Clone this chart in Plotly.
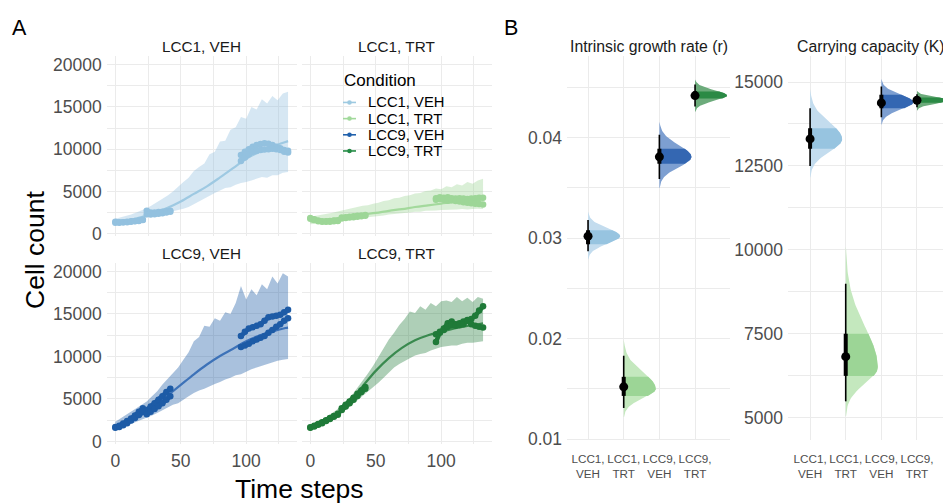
import numpy as np
import plotly.graph_objects as go

W, H = 943, 504

# ---------------- data ----------------
CONDITIONS = ["LCC1, VEH", "LCC1, TRT", "LCC9, VEH", "LCC9, TRT"]
CAT_LABELS = ["LCC1,<br>VEH", "LCC1,<br>TRT", "LCC9,<br>VEH", "LCC9,<br>TRT"]
POINT_COLORS = ["#93c1df", "#9dd697", "#1d5ba6", "#1f7a38"]
LINE_COLORS = ["#9ec9e2", "#a3d99c", "#3d72b8", "#3a8a4f"]
RIBBON_COLORS = ["rgba(147,193,223,0.38)", "rgba(157,214,151,0.38)",
                 "rgba(29,91,166,0.38)", "rgba(31,122,56,0.36)"]
LEGEND_COLORS = ["#9ecae1", "#a1d99b", "#2161ac", "#238b45"]

X_TICKS = [0, 50, 100]
X_TICK_LABELS = ["0", "50", "100"]
X_MINOR = [25, 75, 125]
Y_TICKS = [0, 5000, 10000, 15000, 20000]
Y_TICK_LABELS = ["0", "5000", "10000", "15000", "20000"]
Y_MINOR = [2500, 7500, 12500, 17500]

# observation time windows
OBS_T_W1 = [0, 3, 6, 9, 12, 15, 18, 21]
OBS_T_W2 = [24, 27, 30, 33, 36, 39, 42]
OBS_T_W3 = [96, 99, 102, 105, 108, 111, 114, 117, 120, 123, 126, 129, 132]

LCC1_VEH_REP1 = [1400, 1350, 1350, 1400, 1450, 1500, 1550, 1650,
                 2700, 2500, 2500, 2550, 2600, 2650, 2700,
                 9300, 9700, 10000, 10300, 10500, 10600, 10700, 10650, 10500, 10300, 10100, 9900, 9800]
LCC1_VEH_REP2 = [1300, 1300, 1350, 1350, 1400, 1450, 1500, 1600,
                 2300, 2250, 2300, 2350, 2400, 2500, 2600,
                 8600, 9000, 9400, 9700, 9800, 9900, 9950, 10000, 10050, 10000, 9900, 9700, 9600]
LCC1_TRT_REP1 = [1850, 1700, 1550, 1450, 1450, 1500, 1550, 1550,
                 1900, 1950, 2000, 2050, 2100, 2150, 2200,
                 4200, 4300, 4250, 4300, 4200, 4150, 4200, 4150, 4100, 4150, 4200, 4250, 4250]
LCC1_TRT_REP2 = [1750, 1600, 1450, 1400, 1400, 1400, 1450, 1500,
                 1800, 1850, 1900, 1950, 2000, 2050, 2100,
                 4000, 4100, 4000, 3900, 3950, 3850, 3800, 3700, 3650, 3600, 3550, 3500, 3450]
LCC9_VEH_REP1 = [1700, 1850, 2100, 2400, 2700, 3050, 3500, 3900,
                 3700, 4100, 4500, 4900, 5300, 5800, 6200,
                 12400, 12900, 13300, 13450, 13600, 13800, 14200, 14600, 14700, 14800, 14900, 15200, 15500]
LCC9_VEH_REP2 = [1600, 1700, 1900, 2150, 2450, 2750, 3100, 3500,
                 3200, 3500, 3800, 4150, 4500, 4900, 5300,
                 11100, 11300, 11500, 11800, 12000, 12200, 12400, 12800, 13100, 13500, 13800, 14200, 14500]
LCC9_TRT_REP1 = [1650, 1850, 2050, 2250, 2500, 2750, 3000, 3250,
                 3900, 4300, 4700, 5150, 5600, 6000, 6400,
                 11700, 12800, 13300, 13900, 14100, 13800, 13900, 14100, 14300, 14400, 14800, 15400, 15900]
LCC9_TRT_REP2 = [1600, 1750, 1950, 2150, 2400, 2650, 2900, 3150,
                 3700, 4100, 4500, 4900, 5350, 5800, 6200,
                 12600, 12900, 13100, 13500, 13700, 13600, 13700, 13800, 14200, 13800, 13600, 13500, 13400]

# fitted model curve (read at these time steps)
FIT_T = [0, 10, 20, 30, 40, 50, 60, 70, 80, 90, 100, 110, 120, 130, 132]
FIT_LCC1_VEH = [1250, 1550, 1950, 2450, 3050, 3800, 4700, 5600, 6650, 7750, 8870, 9650, 10300, 10850, 10950]
FIT_LCC1_TRT = [1400, 1600, 1800, 2000, 2250, 2450, 2700, 2900, 3150, 3350, 3550, 3750, 3900, 4050, 4080]
FIT_LCC9_VEH = [1550, 2250, 3100, 4150, 5400, 6650, 7900, 9050, 10050, 10900, 11800, 12450, 12950, 13350, 13400]
FIT_LCC9_TRT = [1550, 2200, 3250, 4700, 6500, 8300, 9800, 11000, 11900, 12500, 12900, 13300, 13600, 13850, 13900]

# prediction band
RIB_T = [0, 4, 8, 12, 16, 20, 24, 28, 32, 36, 40, 44, 48, 52, 56, 60, 64, 68,
         72, 76, 80, 84, 88, 92, 96, 100, 104, 108, 112, 116, 120, 124, 128, 132]
UP_LCC1_VEH = [1750, 1900, 2100, 2250, 2500, 2750, 3000, 3350, 3700, 4100, 4500, 5000, 5600, 6100, 6600, 7400, 7900,
               8300, 9400, 9700, 10900, 11000, 12300, 12600, 13800, 13600, 15000, 14700, 15900, 15400, 16300, 15800, 16600, 16800]
LO_LCC1_VEH = [1100, 1200, 1350, 1450, 1600, 1750, 1900, 2050, 2200, 2350, 2450, 2600, 2750, 2950, 3150, 3500, 3800,
               4200, 4500, 4800, 5100, 5400, 5500, 5800, 6000, 6100, 6300, 6500, 6700, 6600, 6900, 6900, 7200, 7300]
UP_LCC1_TRT = [2000, 2100, 2250, 2350, 2450, 2600, 2750, 2850, 3000, 3150, 3300, 3350, 3550, 3650, 3850, 3950, 4200,
               4250, 4450, 4550, 4750, 4800, 5050, 5100, 5350, 5250, 5600, 5500, 5850, 5700, 6100, 5900, 6300, 6500]
LO_LCC1_TRT = [1100, 1150, 1250, 1300, 1400, 1450, 1550, 1650, 1700, 1800, 1850, 1950, 2000, 2100, 2150, 2250, 2300,
               2400, 2450, 2500, 2600, 2600, 2700, 2700, 2750, 2800, 2800, 2850, 2850, 2900, 2850, 2900, 2950, 2900]
UP_LCC9_VEH = [2300, 2700, 3100, 3500, 3900, 4300, 4700, 5300, 5900, 6700, 7400, 8000, 8700, 9600, 10500, 11800, 12300,
               13600, 13500, 14500, 14200, 15200, 15000, 16300, 18300, 16700, 17900, 17200, 18500, 17900, 19400, 18600, 19800, 19400]
LO_LCC9_VEH = [1300, 1550, 1800, 2050, 2300, 2550, 2750, 3050, 3350, 3700, 4000, 4300, 4500, 4850, 5300, 5700, 6000,
               6200, 6500, 6750, 7000, 7300, 7500, 7800, 7900, 8200, 8500, 8700, 8900, 9100, 9300, 9500, 9600, 9700]
UP_LCC9_TRT = [1850, 2150, 2500, 2850, 3250, 3700, 4250, 4800, 5500, 6300, 7100, 8000, 8900, 9900, 10900, 12000, 12800,
               13700, 14400, 15300, 15100, 15900, 15500, 16300, 15900, 16500, 16600, 16400, 17000, 16500, 16900, 16400, 17000, 16800]
LO_LCC9_TRT = [1450, 1700, 1950, 2250, 2550, 2900, 3300, 3800, 4300, 4900, 5400, 5900, 6300, 6900, 7500, 8100, 8700,
               9100, 9500, 9800, 10100, 10300, 10400, 10700, 10900, 11100, 11200, 11300, 11300, 11500, 11600, 11600, 11700, 11800]

# posterior summaries, panel B (order: LCC1 VEH, LCC1 TRT, LCC9 VEH, LCC9 TRT)
R_SLAB_LO = [0.0279, 0.0122, 0.0350, 0.0426]
R_SLAB_PEAK = [0.0302, 0.0150, 0.0381, 0.0442]
R_SLAB_HI = [0.0326, 0.0199, 0.0416, 0.0458]
R_Q025 = [0.0287, 0.0131, 0.0359, 0.0431]
R_Q17 = [0.0294, 0.0143, 0.0374, 0.0439]
R_MED = [0.0302, 0.0152, 0.0381, 0.0442]
R_Q83 = [0.0308, 0.0162, 0.0389, 0.0446]
R_Q975 = [0.0318, 0.0183, 0.0403, 0.0453]

K_SLAB_LO = [12160, 5050, 13735, 14150]
K_SLAB_PEAK = [13300, 6500, 14400, 14460]
K_SLAB_HI = [14790, 10100, 15080, 14740]
K_Q025 = [12500, 5485, 13950, 14250]
K_Q17 = [13015, 6244, 14220, 14380]
K_MED = [13306, 6817, 14378, 14457]
K_Q83 = [13620, 7500, 14620, 14540]
K_Q975 = [14220, 8990, 14865, 14640]

R_TICKS = [0.01, 0.02, 0.03, 0.04]
R_TICK_LABELS = ["0.01", "0.02", "0.03", "0.04"]
R_MINOR = [0.015, 0.025, 0.035, 0.045]
K_TICKS = [5000, 7500, 10000, 12500, 15000]
K_TICK_LABELS = ["5000", "7500", "10000", "12500", "15000"]
K_MINOR = [6250, 8750, 11250, 13750]

SLAB_OUTER = ["#c3dcee", "#c4e8be", "#7d9fd1", "#6cab7b"]
SLAB_INNER = ["#97c4e0", "#9cd596", "#3467b2", "#2b8a45"]

# ---------------- helpers ----------------
FONT = "Liberation Sans, Arial, sans-serif"
GRID = "#ebebeb"
TICK_COLOR = "#4d4d4d"
TICK_SIZE = 17.5


def pxx(x):
    return x / W


def pyy(y):
    return 1 - y / H


def with_gaps(vals):
    n1, n2 = len(OBS_T_W1), len(OBS_T_W2)
    return vals[:n1] + [None] + vals[n1:n1 + n2] + [None] + vals[n1 + n2:]


OBS_T = OBS_T_W1 + [None] + OBS_T_W2 + [None] + OBS_T_W3

REPS = [(LCC1_VEH_REP1, LCC1_VEH_REP2), (LCC1_TRT_REP1, LCC1_TRT_REP2),
        (LCC9_VEH_REP1, LCC9_VEH_REP2), (LCC9_TRT_REP1, LCC9_TRT_REP2)]
FITS = [FIT_LCC1_VEH, FIT_LCC1_TRT, FIT_LCC9_VEH, FIT_LCC9_TRT]
UPS = [UP_LCC1_VEH, UP_LCC1_TRT, UP_LCC9_VEH, UP_LCC9_TRT]
LOS = [LO_LCC1_VEH, LO_LCC1_TRT, LO_LCC9_VEH, LO_LCC9_TRT]

fig = go.Figure()

for i in range(4):
    xa = "x" if i == 0 else f"x{i + 1}"
    ya = "y" if i == 0 else f"y{i + 1}"
    fig.add_trace(go.Scatter(x=RIB_T, y=LOS[i], mode="lines", line=dict(width=0, color=RIBBON_COLORS[i]),
                             showlegend=False, hoverinfo="skip", xaxis=xa, yaxis=ya))
    fig.add_trace(go.Scatter(x=RIB_T, y=UPS[i], mode="lines", line=dict(width=0, color=RIBBON_COLORS[i]),
                             fill="tonexty", fillcolor=RIBBON_COLORS[i],
                             showlegend=False, hoverinfo="skip", xaxis=xa, yaxis=ya))
    fig.add_trace(go.Scatter(x=FIT_T, y=FITS[i], mode="lines", line=dict(width=2.2, color=LINE_COLORS[i], shape="spline"),
                             showlegend=False, xaxis=xa, yaxis=ya))
    for rep in REPS[i]:
        fig.add_trace(go.Scatter(x=OBS_T, y=with_gaps(rep), mode="lines+markers",
                                 line=dict(width=4.5, color=POINT_COLORS[i]),
                                 marker=dict(size=6.5, color=POINT_COLORS[i]),
                                 connectgaps=False, showlegend=False, name=CONDITIONS[i],
                                 xaxis=xa, yaxis=ya))

SLAB_SCALE = 0.9


def slab_shape(center, lo, peak, hi, y0, y1, n=90):
    ys = np.linspace(y0, y1, n)
    sd = np.where(ys < peak, (peak - lo) / 3.0, (hi - peak) / 3.0)
    dens = np.exp(-0.5 * ((ys - peak) / sd) ** 2)
    xs = center + SLAB_SCALE * dens
    return (np.concatenate([xs, [center, center, xs[0]]]),
            np.concatenate([ys, [y1, y0, ys[0]]]))


def add_halfeye(xa, ya, lo_s, pk_s, hi_s, q025, q17, med, q83, q975):
    for j in range(4):
        c = j + 1
        xs, ys = slab_shape(c, lo_s[j], pk_s[j], hi_s[j], lo_s[j], hi_s[j])
        fig.add_trace(go.Scatter(x=xs, y=ys, mode="lines", fill="toself", fillcolor=SLAB_OUTER[j],
                                 line=dict(width=0, color=SLAB_OUTER[j]), showlegend=False,
                                 hoverinfo="skip", xaxis=xa, yaxis=ya))
        xs, ys = slab_shape(c, lo_s[j], pk_s[j], hi_s[j], q17[j], q83[j])
        fig.add_trace(go.Scatter(x=xs, y=ys, mode="lines", fill="toself", fillcolor=SLAB_INNER[j],
                                 line=dict(width=0, color=SLAB_INNER[j]), showlegend=False,
                                 hoverinfo="skip", xaxis=xa, yaxis=ya))
        fig.add_trace(go.Scatter(x=[c, c], y=[q025[j], q975[j]], mode="lines",
                                 line=dict(width=1.6, color="black"), showlegend=False, xaxis=xa, yaxis=ya))
        fig.add_trace(go.Scatter(x=[c, c], y=[q17[j], q83[j]], mode="lines",
                                 line=dict(width=4, color="black"), showlegend=False, xaxis=xa, yaxis=ya))
        fig.add_trace(go.Scatter(x=[c], y=[med[j]], mode="markers",
                                 marker=dict(size=9, color="black"), showlegend=False, xaxis=xa, yaxis=ya))


add_halfeye("x5", "y5", R_SLAB_LO, R_SLAB_PEAK, R_SLAB_HI, R_Q025, R_Q17, R_MED, R_Q83, R_Q975)
add_halfeye("x6", "y6", K_SLAB_LO, K_SLAB_PEAK, K_SLAB_HI, K_Q025, K_Q17, K_MED, K_Q83, K_Q975)

# ---------------- layout ----------------
A_X_DOM = [(106.7, 296.7), (301.7, 491.7), (106.7, 296.7), (301.7, 491.7)]
A_Y_DOM = [(56.4, 239.9), (56.4, 239.9), (267.3, 451.9), (267.3, 451.9)]

layout = dict(width=W, height=H, margin=dict(l=0, r=0, t=0, b=0),
              paper_bgcolor="white", plot_bgcolor="white",
              font=dict(family=FONT, color="black"), showlegend=False)

for i in range(4):
    n = "" if i == 0 else str(i + 1)
    layout["xaxis" + n] = dict(domain=[pxx(A_X_DOM[i][0]), pxx(A_X_DOM[i][1])], range=[-6.6, 138.6],
                               anchor="y" + n, tickvals=X_TICKS, ticktext=X_TICK_LABELS,
                               showticklabels=(i >= 2), showgrid=True, gridcolor=GRID, gridwidth=1.1,
                               minor=dict(tickvals=X_MINOR, showgrid=True, gridcolor=GRID, gridwidth=0.6),
                               zeroline=False, showline=False, ticks="", ticklabelstandoff=5,
                               tickfont=dict(size=TICK_SIZE, color=TICK_COLOR))
    layout["yaxis" + n] = dict(domain=[pyy(A_Y_DOM[i][1]), pyy(A_Y_DOM[i][0])], range=[-300, 21000],
                               anchor="x" + n, tickvals=Y_TICKS, ticktext=Y_TICK_LABELS,
                               showticklabels=(i in (0, 2)), showgrid=True, gridcolor=GRID, gridwidth=1.1,
                               minor=dict(tickvals=Y_MINOR, showgrid=True, gridcolor=GRID, gridwidth=0.6),
                               zeroline=False, showline=False, ticks="", ticklabelstandoff=4,
                               tickfont=dict(size=TICK_SIZE, color=TICK_COLOR))

layout["xaxis5"] = dict(domain=[pxx(567), pxx(730)], range=[0.41, 4.98], anchor="y5",
                        tickvals=[1, 2, 3, 4], ticktext=CAT_LABELS, showgrid=True, gridcolor=GRID, gridwidth=1.1,
                        zeroline=False, showline=False, ticks="", ticklabelstandoff=10,
                        tickfont=dict(size=11.7, color=TICK_COLOR))
layout["yaxis5"] = dict(domain=[pyy(448), pyy(56.5)], range=[0.0099, 0.0481], anchor="x5",
                        tickvals=R_TICKS, ticktext=R_TICK_LABELS, showgrid=True, gridcolor=GRID, gridwidth=1.1,
                        minor=dict(tickvals=R_MINOR, showgrid=True, gridcolor=GRID, gridwidth=0.6),
                        zeroline=False, showline=False, ticks="", ticklabelstandoff=4,
                        tickfont=dict(size=TICK_SIZE, color=TICK_COLOR))
layout["xaxis6"] = dict(domain=[pxx(788), 1.0], range=[0.38, 4.73], anchor="y6",
                        tickvals=[1, 2, 3, 4], ticktext=CAT_LABELS, showgrid=True, gridcolor=GRID, gridwidth=1.1,
                        zeroline=False, showline=False, ticks="", ticklabelstandoff=10,
                        tickfont=dict(size=11.7, color=TICK_COLOR))
layout["yaxis6"] = dict(domain=[pyy(448), pyy(56.5)], range=[4330, 15765], anchor="x6",
                        tickvals=K_TICKS, ticktext=K_TICK_LABELS, showgrid=True, gridcolor=GRID, gridwidth=1.1,
                        minor=dict(tickvals=K_MINOR, showgrid=True, gridcolor=GRID, gridwidth=0.6),
                        zeroline=False, showline=False, ticks="", ticklabelstandoff=4,
                        tickfont=dict(size=TICK_SIZE, color=TICK_COLOR))

ann = []


def text(t, x, y, size, color="black", xanchor="center", yanchor="middle", angle=0):
    ann.append(dict(text=t, x=pxx(x), y=pyy(y), xref="paper", yref="paper", showarrow=False,
                    xanchor=xanchor, yanchor=yanchor, textangle=angle,
                    font=dict(size=size, color=color, family=FONT)))


text("A", 10, 28, 21.5, xanchor="left")
text("B", 502, 28, 21.5, xanchor="left")
# strip titles
for i in range(4):
    cx = (A_X_DOM[i][0] + A_X_DOM[i][1]) / 2
    cy = A_Y_DOM[i][0] - 9.5
    text(CONDITIONS[i], cx, cy, 15.3, color="#1a1a1a")
text("Intrinsic growth rate (r)", 648.5, 46, 15.8, color="#1a1a1a")
text("Carrying capacity (K)", 870, 46, 15.8, color="#1a1a1a")
text("Cell count", 35, 254, 26.5, angle=-90)
text("Time steps", 299, 498, 26.5)

# legend (drawn in the upper-right facet area)
text("Condition", 342, 81, 17, xanchor="left")
LEG_Y = [103.5, 120.0, 136.5, 153.0]
shapes = []
for i in range(4):
    text(CONDITIONS[i], 366, LEG_Y[i], 14.8, xanchor="left")
    shapes.append(dict(type="line", xref="paper", yref="paper", x0=pxx(343), x1=pxx(356),
                       y0=pyy(LEG_Y[i]), y1=pyy(LEG_Y[i]), line=dict(color=LEGEND_COLORS[i], width=1.6)))
    shapes.append(dict(type="circle", xref="paper", yref="paper", x0=pxx(347.2), x1=pxx(351.8),
                       y0=pyy(LEG_Y[i] + 2.3), y1=pyy(LEG_Y[i] - 2.3),
                       fillcolor=LEGEND_COLORS[i], line=dict(width=0)))

layout["annotations"] = ann
layout["shapes"] = shapes
fig.update_layout(**layout)

fig.write_html("out.html", config={"displayModeBar": False})
